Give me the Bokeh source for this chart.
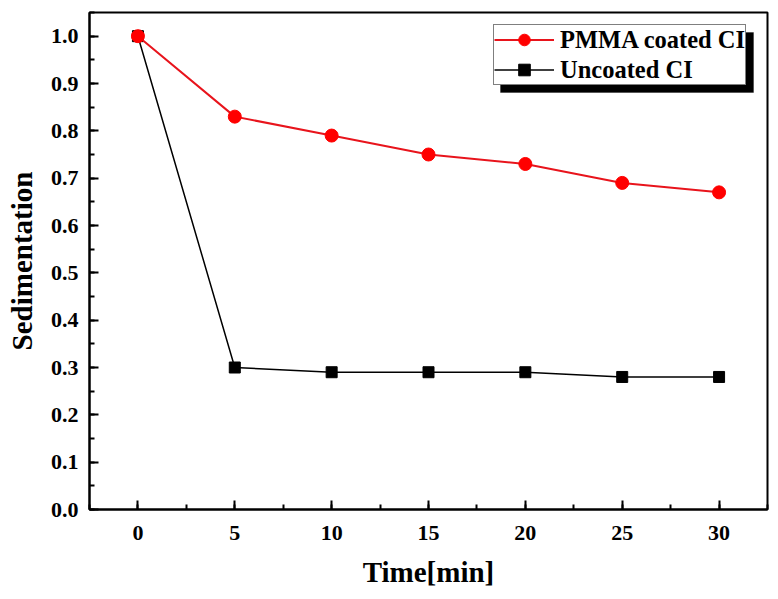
from bokeh.plotting import figure
from bokeh.models import (Range1d, SingleIntervalTicker, Legend, LegendItem,
                          BoxAnnotation, ColumnDataSource, CustomJSTickFormatter)
from bokeh.embed import file_html
from bokeh.resources import INLINE

time_min = [0, 5, 10, 15, 20, 25, 30]
pmma_coated = [1.00, 0.83, 0.79, 0.75, 0.73, 0.69, 0.67]
uncoated = [1.00, 0.30, 0.29, 0.29, 0.29, 0.28, 0.28]
series_labels = ["PMMA coated CI", "Uncoated CI"]

FONT = "Liberation Serif"

p = figure(width=770, height=591, output_backend="svg", toolbar_location=None,
           x_range=Range1d(-2.5, 32.5), y_range=Range1d(0, 1.05),
           min_border_left=89, min_border_right=3, min_border_top=12,
           min_border_bottom=82)
p.xgrid.visible = False
p.ygrid.visible = False
p.outline_line_color = "black"
p.outline_line_width = 2
p.background_fill_color = "white"
p.border_fill_color = "white"

src_u = ColumnDataSource(dict(x=time_min, y=uncoated))
src_p = ColumnDataSource(dict(x=time_min, y=pmma_coated))

lu = p.line("x", "y", source=src_u, line_color="black", line_width=1.5)
su = p.scatter("x", "y", source=src_u, marker="square", size=11,
               fill_color="black", line_color="black")
lp = p.line("x", "y", source=src_p, line_color="#e8141c", line_width=2)
sp = p.scatter("x", "y", source=src_p, marker="circle", size=13,
               fill_color="#ff0000", line_color="#ff0000")

for ax in (p.xaxis[0], p.yaxis[0]):
    ax.axis_line_width = 2
    ax.major_tick_line_width = 2
    ax.minor_tick_line_width = 2
    ax.major_tick_in = 9
    ax.major_tick_out = 0
    ax.minor_tick_in = 5
    ax.minor_tick_out = 0
    ax.major_label_text_font = FONT
    ax.major_label_text_font_style = "bold"
    ax.major_label_text_font_size = "22px"
    ax.major_label_text_color = "black"
    ax.axis_label_text_font = FONT
    ax.axis_label_text_font_style = "bold"
    ax.axis_label_text_font_size = "29px"
    ax.axis_label_text_color = "black"

p.xaxis[0].ticker = SingleIntervalTicker(interval=5, num_minor_ticks=2)
p.yaxis[0].ticker = SingleIntervalTicker(interval=0.1, num_minor_ticks=2)
p.yaxis[0].formatter = CustomJSTickFormatter(code="return tick.toFixed(1);")
p.xaxis[0].axis_label = "Time[min]"
p.yaxis[0].axis_label = "Sedimentation"
p.xaxis[0].major_label_standoff = 16
p.yaxis[0].major_label_standoff = 11
p.xaxis[0].axis_label_standoff = 13
p.yaxis[0].axis_label_standoff = 10

shadow = BoxAnnotation(left=411, right=664, bottom=417, top=477,
                       left_units="screen", right_units="screen",
                       bottom_units="screen", top_units="screen",
                       fill_color="black", fill_alpha=1.0, line_color="black",
                       level="overlay")
p.add_layout(shadow)

legend = Legend(items=[LegendItem(label=series_labels[0], renderers=[lp, sp]),
                       LegendItem(label=series_labels[1], renderers=[lu, su])],
                location=(404, 424))
legend.label_text_font = FONT
legend.label_text_font_style = "bold"
legend.label_text_font_size = "24.5px"
legend.label_text_color = "black"
legend.label_standoff = 6
legend.glyph_width = 60
legend.label_height = 29
legend.glyph_height = 29
legend.spacing = 1
legend.padding = 0
legend.margin = 0
legend.border_line_color = "black"
legend.border_line_width = 1
legend.background_fill_color = "white"
legend.background_fill_alpha = 1.0
p.add_layout(legend, "center")

open("out.html", "w").write(file_html(p, INLINE))
